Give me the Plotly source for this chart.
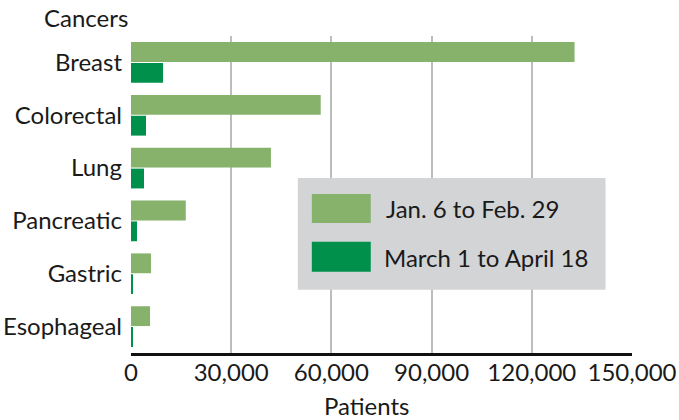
import plotly.graph_objects as go

categories = ["Breast", "Colorectal", "Lung", "Pancreatic", "Gastric", "Esophageal"]
jan_feb = [132800, 56800, 41900, 16400, 6000, 5700]
mar_apr = [9600, 4500, 3900, 1800, 600, 600]
series_names = ["Jan. 6 to Feb. 29", "March 1 to April 18"]
tick_vals = [0, 30000, 60000, 90000, 120000, 150000]
tick_text = ["0", "30,000", "60,000", "90,000", "120,000", "150,000"]

light = "#86B26B"
dark = "#00904C"
font = "Lato"
txt = "#1a1a1a"
FS = 24

fig = go.Figure()
fig.add_trace(go.Bar(y=categories, x=jan_feb, orientation="h", name=series_names[0],
                     marker=dict(color=light, line=dict(width=0))))
fig.add_trace(go.Bar(y=categories, x=mar_apr, orientation="h", name=series_names[1],
                     marker=dict(color=dark, line=dict(width=0))))

W, H = 679, 420
ml, mr, mt, mb = 131, 46.5, 35.5, 66.5
fig.update_layout(
    width=W, height=H,
    margin=dict(l=ml, r=mr, t=mt, b=mb),
    barmode="group", bargap=0.21, bargroupgap=0.05,
    plot_bgcolor="white", paper_bgcolor="white",
    showlegend=False,
    font=dict(family=font, size=FS, color=txt),
    xaxis=dict(range=[0, 150000], tickvals=tick_vals, ticktext=tick_text,
               showgrid=True, gridcolor="#bdbdbd", gridwidth=1.5, automargin=False,
               zeroline=False, showline=True, linecolor="#111", linewidth=3,
               ticks="", ticklabelstandoff=-4, tickfont=dict(size=FS, color=txt)),
    yaxis=dict(categoryorder="array", categoryarray=categories, autorange="reversed",
               showgrid=False, zeroline=False, showline=False, ticks="", automargin=False,
               ticklabelstandoff=8, tickfont=dict(size=FS, color=txt)),
)

pw = W - ml - mr
ph = H - mt - mb
def px(x):
    return (x - ml) / pw
def py(y):
    return 1 - (y - mt) / ph

annotations = [
    dict(text="Cancers", x=px(130), y=py(17), xref="paper", yref="paper",
         xanchor="right", yanchor="middle", showarrow=False, font=dict(size=FS, color=txt)),
    dict(text="Patients", x=px(367), y=py(406), xref="paper", yref="paper",
         xanchor="center", yanchor="middle", showarrow=False, font=dict(size=FS, color=txt)),
    dict(text=series_names[0], x=px(384), y=py(209), xref="paper", yref="paper",
         xanchor="left", yanchor="middle", showarrow=False, font=dict(size=FS, color=txt)),
    dict(text=series_names[1], x=px(382), y=py(258), xref="paper", yref="paper",
         xanchor="left", yanchor="middle", showarrow=False, font=dict(size=FS, color=txt)),
]
shapes = [
    dict(type="rect", xref="paper", yref="paper", x0=px(298), x1=px(606), y0=py(178), y1=py(290),
         fillcolor="#D3D4D6", line=dict(width=0), layer="above"),
    dict(type="rect", xref="paper", yref="paper", x0=px(312), x1=px(371), y0=py(194), y1=py(223),
         fillcolor=light, line=dict(width=0), layer="above"),
    dict(type="rect", xref="paper", yref="paper", x0=px(312), x1=px(371), y0=py(242), y1=py(272),
         fillcolor=dark, line=dict(width=0), layer="above"),
]
fig.update_layout(annotations=annotations, shapes=shapes)

fig.write_html("out.html", config={"displayModeBar": False},
               post_script="document.body.style.margin='0';document.body.style.overflow='hidden';")
